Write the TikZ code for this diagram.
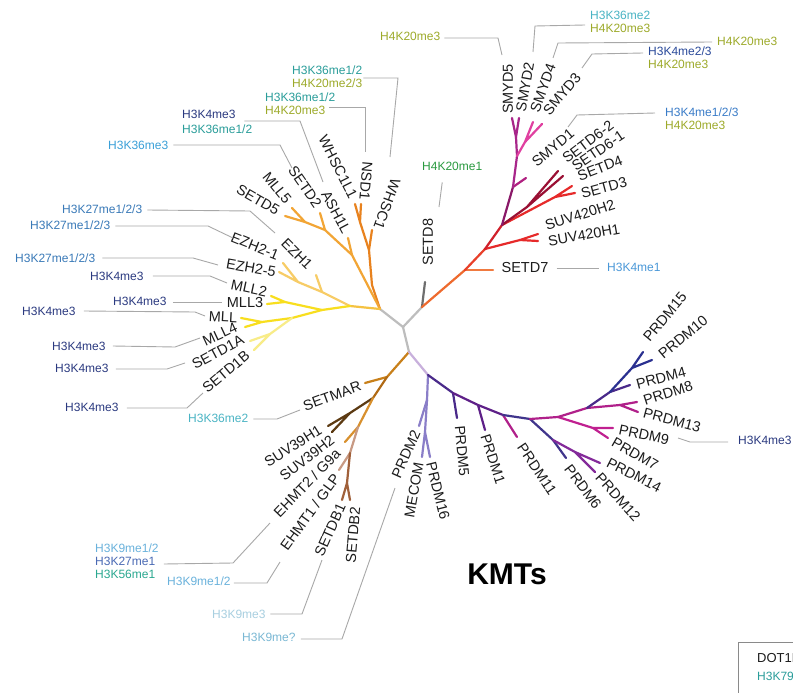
\documentclass[tikz,border=0pt]{standalone}
\usepackage{fontspec}
\setmainfont{Liberation Sans}
\usetikzlibrary{calc}
\newcommand\genef{\fontsize{14.5}{16}\selectfont}
\newcommand\annf{\fontsize{12}{13}\selectfont}
% tree colours
\definecolor{cgray}{HTML}{BDBDBD}
\definecolor{cset8}{HTML}{6E6E6E}
\definecolor{cor1}{HTML}{EE6A2E}
\definecolor{cor2}{HTML}{F07A40}
\definecolor{cred1}{HTML}{E8402A}
\definecolor{cred2}{HTML}{E62A2A}
\definecolor{cred3}{HTML}{D0202A}
\definecolor{cdred}{HTML}{9A1034}
\definecolor{cpur1}{HTML}{8A1868}
\definecolor{cpur2}{HTML}{A8268A}
\definecolor{cmag1}{HTML}{B02080}
\definecolor{cpink}{HTML}{E040A0}
\definecolor{cdor}{HTML}{E8821E}
\definecolor{cor}{HTML}{F2A535}
\definecolor{cyo}{HTML}{F5C242}
\definecolor{cez}{HTML}{F7CC66}
\definecolor{cyel}{HTML}{F8DE1E}
\definecolor{cpyel}{HTML}{F8EC88}
\definecolor{cb1}{HTML}{C8801A}
\definecolor{cb2}{HTML}{B06A15}
\definecolor{cdbr}{HTML}{5C3A12}
\definecolor{cbo}{HTML}{D8902E}
\definecolor{cpbr}{HTML}{C89A84}
\definecolor{cbr}{HTML}{A0603A}
\definecolor{clp}{HTML}{C8B0DC}
\definecolor{clav}{HTML}{8A7EC8}
\definecolor{cdp}{HTML}{4A2A8A}
\definecolor{cpp}{HTML}{5E2088}
\definecolor{cpm}{HTML}{B0208A}
\definecolor{cnp}{HTML}{40358C}
\definecolor{cvi}{HTML}{842A9A}
\definecolor{cmg}{HTML}{C02090}
\definecolor{cnavy}{HTML}{2A3090}
% text colours
\definecolor{genetext}{HTML}{1C1C1C}
\definecolor{leadgray}{HTML}{A8A8A8}
\definecolor{tnavy}{HTML}{2B3A80}
\definecolor{tteal}{HTML}{2A9D9A}
\definecolor{tolive}{HTML}{9DAA2A}
\definecolor{tlblue}{HTML}{3AA0D8}
\definecolor{tsteel}{HTML}{3A7AB8}
\definecolor{tcyan}{HTML}{4AB4C4}
\definecolor{tgreen}{HTML}{2A9A40}
\definecolor{tblue1}{HTML}{4A98D8}
\definecolor{tblue}{HTML}{3A7CC8}
\definecolor{tdblue}{HTML}{2A4A9A}
\definecolor{tk9}{HTML}{6AB2DC}
\definecolor{tk27}{HTML}{4A6AB4}
\definecolor{tk56}{HTML}{2AA890}
\definecolor{tk9p}{HTML}{A8CFE0}
\definecolor{tk9q}{HTML}{7AB8D4}
\definecolor{boxgray}{HTML}{8A8A8A}
\begin{document}
\begin{tikzpicture}[x=1pt,y=-1pt,
  br/.style={line width=2.2pt,line cap=round,line join=round},
  gene/.style={font=\genef,text=genetext,inner sep=0pt},
  ann/.style={font=\annf,inner sep=0pt,anchor=west,align=left},
  lead/.style={draw=leadgray,line width=0.9pt}]
\clip (0,0) rectangle (793,693);
\fill[white] (0,0) rectangle (793,693);
% ---------- coordinates ----------
\coordinate (R0) at (403,327);
\coordinate (Ly) at (380,309);
\coordinate (Lr) at (422,307);
\coordinate (Lb) at (409,352);
% red clade
\coordinate (r8) at (425,282);
\coordinate (r1) at (465,270);
\coordinate (t7) at (493,270);
\coordinate (r2) at (485,249);
\coordinate (r2s) at (520,240);
\coordinate (tH2) at (538,234);
\coordinate (tH1) at (538,241);
\coordinate (r3) at (502,225);
\coordinate (r4) at (527,207);
\coordinate (t62) at (558,171);
\coordinate (t61) at (563,176);
\coordinate (r5) at (555,197);
\coordinate (td4) at (572,186);
\coordinate (td3) at (575,193);
\coordinate (s1) at (513,187);
\coordinate (ts1) at (526,178);
\coordinate (s2) at (517,156);
\coordinate (s3) at (516,137);
\coordinate (ts5) at (512,118);
\coordinate (ts2) at (519,118);
\coordinate (s4) at (525,142);
\coordinate (ts4) at (533,122);
\coordinate (ts3) at (542,124);
% orange clade
\coordinate (o1) at (372,285);
\coordinate (o2) at (369,250);
\coordinate (tw1) at (372,230);
\coordinate (o3) at (360,222);
\coordinate (twl) at (355,204);
\coordinate (tnsd) at (361,204);
\coordinate (o4) at (352,255);
\coordinate (tash) at (348,238);
\coordinate (o5) at (325,230);
\coordinate (tsd2) at (320,213);
\coordinate (o6) at (305,222);
\coordinate (tml5) at (292,208);
\coordinate (tsd5) at (285,216);
% yellow clade
\coordinate (y0) at (350,306);
\coordinate (e1) at (322,292);
\coordinate (tez1) at (316,275);
\coordinate (e2) at (298,282);
\coordinate (tez21) at (283,263);
\coordinate (tez25) at (279,272);
\coordinate (y1) at (322,310);
\coordinate (m23) at (285,302);
\coordinate (tml2) at (271,296);
\coordinate (tml3) at (267,304);
\coordinate (m14a) at (292,318);
\coordinate (m14) at (262,322);
\coordinate (tmll) at (241,318);
\coordinate (tml4) at (245,327);
\coordinate (sd) at (270,334);
\coordinate (tsda) at (250,341);
\coordinate (tsdb) at (254,350);
% brown clade
\coordinate (b1) at (387,377);
\coordinate (tsm) at (365,383);
\coordinate (b2) at (373,398);
\coordinate (suv) at (350,413);
\coordinate (tsv1) at (328,426);
\coordinate (tsv2) at (332,432);
\coordinate (b3) at (358,427);
\coordinate (teh2) at (345,442);
\coordinate (b4) at (350,453);
\coordinate (teh1) at (339,470);
\coordinate (b5) at (347,483);
\coordinate (tdb1) at (342,500);
\coordinate (tdb2) at (350,500);
% PRDM clade
\coordinate (p0) at (428,375);
\coordinate (p1) at (427,400);
\coordinate (tp2) at (419,426);
\coordinate (p2) at (425,432);
\coordinate (tmec) at (422,457);
\coordinate (tp16) at (430,457);
\coordinate (q1) at (453,393);
\coordinate (tp5) at (457,418);
\coordinate (q2) at (478,405);
\coordinate (tp1) at (485,430);
\coordinate (q3) at (503,415);
\coordinate (tp11) at (517,437);
\coordinate (q4) at (530,419);
\coordinate (d1) at (553,440);
\coordinate (tp6) at (566,458);
\coordinate (d2) at (575,452);
\coordinate (tp14) at (600,463);
\coordinate (tp12) at (595,472);
\coordinate (M1) at (558,417);
\coordinate (M97) at (593,428);
\coordinate (tp9) at (613,428);
\coordinate (tp7) at (608,438);
\coordinate (M2) at (587,408);
\coordinate (M813) at (620,405);
\coordinate (tp8) at (637,402);
\coordinate (tp13) at (638,412);
\coordinate (M3) at (610,392);
\coordinate (tp4) at (630,385);
\coordinate (M1510) at (632,368);
\coordinate (tp15) at (643,352);
\coordinate (tp10) at (652,360);
% ---------- branches ----------
\draw[br,cgray] (Ly) -- (R0) -- (Lr);
\draw[br,cgray] (R0) -- (Lb);
\draw[br,cset8] (Lr) -- (r8);
\draw[br,cor1] (Lr) -- (r1);
\draw[br,cor2] (r1) -- (t7);
\draw[br,cred1] (r1) -- (r2);
\draw[br,cred2] (r2) -- (r2s);
\draw[br,cred2] (tH2) -- (r2s) -- (tH1);
\draw[br,cred3] (r2) -- (r3);
\draw[br,cred2] (r3) -- (r5);
\draw[br,cred2] (td4) -- (r5) -- (td3);
\draw[br,cdred] (r3) -- (r4);
\draw[br,cdred] (t62) -- (r4) -- (t61);
\draw[br,cpur1] (r3) -- (s1);
\draw[br,cmag1] (s1) -- (ts1);
\draw[br,cpur2] (s1) -- (s2) -- (s3);
\draw[br,cpur2] (ts5) -- (s3) -- (ts2);
\draw[br,cpink] (s2) -- (s4);
\draw[br,cpink] (ts4) -- (s4) -- (ts3);
% orange
\draw[br,cdor] (Ly) -- (o1) -- (o2) -- (o3);
\draw[br,cdor] (o2) -- (tw1);
\draw[br,cdor] (twl) -- (o3) -- (tnsd);
\draw[br,cor] (Ly) -- (o4) -- (o5) -- (o6);
\draw[br,cor] (o4) -- (tash);
\draw[br,cor] (o5) -- (tsd2);
\draw[br,cor] (tml5) -- (o6) -- (tsd5);
% yellow
\draw[br,cyo] (Ly) -- (y0);
\draw[br,cez] (y0) -- (e1) -- (e2);
\draw[br,cez] (e1) -- (tez1);
\draw[br,cez] (tez21) -- (e2) -- (tez25);
\draw[br,cyel] (y0) -- (y1) -- (m14a) -- (m14);
\draw[br,cyel] (y1) -- (m23);
\draw[br,cyel] (tml2) -- (m23) -- (tml3);
\draw[br,cyel] (tmll) -- (m14) -- (tml4);
\draw[br,cpyel] (m14a) -- (sd);
\draw[br,cpyel] (tsda) -- (sd) -- (tsdb);
% brown
\draw[br,cb1] (Lb) -- (b1) -- (tsm);
\draw[br,cb2] (b1) -- (b2);
\draw[br,cdbr] (b2) -- (suv);
\draw[br,cdbr] (tsv1) -- (suv) -- (tsv2);
\draw[br,cbo] (b2) -- (b3) -- (teh2);
\draw[br,cpbr] (b3) -- (b4) -- (teh1);
\draw[br,cbr] (b4) -- (b5);
\draw[br,cbr] (tdb1) -- (b5) -- (tdb2);
% PRDM
\draw[br,clp] (Lb) -- (p0);
\draw[br,clav] (p0) -- (p1) -- (p2);
\draw[br,clav] (p1) -- (tp2);
\draw[br,clav] (tmec) -- (p2) -- (tp16);
\draw[br,cdp] (p0) -- (q1) -- (tp5);
\draw[br,cpp] (q1) -- (q2) -- (tp1);
\draw[br,cpp] (q2) -- (q3);
\draw[br,cpm] (q3) -- (tp11);
\draw[br,cnp] (q3) -- (q4) -- (d1) -- (tp6);
\draw[br,cvi] (d1) -- (d2);
\draw[br,cvi] (tp14) -- (d2) -- (tp12);
\draw[br,cpm] (q4) -- (M1);
\draw[br,cmg] (M1) -- (M97);
\draw[br,cmg] (tp9) -- (M97) -- (tp7);
\draw[br,cpm] (M1) -- (M2) -- (M813);
\draw[br,cpm] (tp8) -- (M813) -- (tp13);
\draw[br,cdp] (M2) -- (M3) -- (tp4);
\draw[br,cnavy] (M3) -- (M1510);
\draw[br,cnavy] (tp15) -- (M1510) -- (tp10);
% ---------- gene labels ----------
\node[gene,rotate=90] (g-setd8) at (428,242) {SETD8};
\node[gene] (g-setd7) at (525,268) {SETD7};
\node[gene,rotate=10] (g-suvh1) at (584,235) {SUV420H1};
\node[gene,rotate=18] (g-suvh2) at (580,215) {SUV420H2};
\node[gene,rotate=15] (g-setd3) at (604,188) {SETD3};
\node[gene,rotate=21] (g-setd4) at (600,168) {SETD4};
\node[gene,rotate=34] (g-setd61) at (598,151) {SETD6-1};
\node[gene,rotate=37] (g-setd62) at (588,142) {SETD6-2};
\node[gene,rotate=40] (g-smyd1) at (553,148) {SMYD1};
\node[gene,rotate=50] (g-smyd3) at (562,94) {SMYD3};
\node[gene,rotate=70] (g-smyd4) at (543,88) {SMYD4};
\node[gene,rotate=80] (g-smyd2) at (525,87) {SMYD2};
\node[gene,rotate=90] (g-smyd5) at (508,89) {SMYD5};
\node[gene,rotate=-110] (g-whsc1) at (387,204) {WHSC1};
\node[gene,rotate=-95] (g-nsd1) at (366,181) {NSD1};
\node[gene,rotate=-63] (g-whscl1) at (338,167) {WHSC1L1};
\node[gene,rotate=-62] (g-ash1l) at (336,212) {ASH1L};
\node[gene,rotate=-55] (g-setd2) at (305,187) {SETD2};
\node[gene,rotate=-51] (g-mll5) at (277,188) {MLL5};
\node[gene,rotate=-30] (g-setd5) at (258,200) {SETD5};
\node[gene,rotate=-45] (g-ezh1) at (297,254) {EZH1};
\node[gene,rotate=-22] (g-ezh21) at (255,246) {EZH2-1};
\node[gene,rotate=-10] (g-ezh25) at (251,268) {EZH2-5};
\node[gene,rotate=-12] (g-mll2) at (249,288) {MLL2};
\node[gene] (g-mll3) at (245,303) {MLL3};
\node[gene,rotate=-3] (g-mll) at (223,317) {MLL};
\node[gene,rotate=25] (g-mll4) at (220,334) {MLL4};
\node[gene,rotate=28] (g-setd1a) at (218,352) {SETD1A};
\node[gene,rotate=40] (g-setd1b) at (226,372) {SETD1B};
\node[gene,rotate=20] (g-setmar) at (332,396) {SETMAR};
\node[gene,rotate=32] (g-suv1) at (293,446) {SUV39H1};
\node[gene,rotate=38] (g-suv2) at (307,458) {SUV39H2};
\node[gene,rotate=46] (g-ehmt2) at (307,483) {EHMT2 / G9a};
\node[gene,rotate=54] (g-ehmt1) at (310,512) {EHMT1 / GLP};
\node[gene,rotate=66] (g-setdb1) at (330,530) {SETDB1};
\node[gene,rotate=85] (g-setdb2) at (353,535) {SETDB2};
\node[gene,rotate=66] (g-prdm2) at (406,454) {PRDM2};
\node[gene,rotate=80] (g-mecom) at (414,490) {MECOM};
\node[gene,rotate=-76] (g-prdm16) at (438,491) {PRDM16};
\node[gene,rotate=-85] (g-prdm5) at (462,451) {PRDM5};
\node[gene,rotate=-72] (g-prdm1) at (493,459) {PRDM1};
\node[gene,rotate=-56] (g-prdm11) at (537,469) {PRDM11};
\node[gene,rotate=-53] (g-prdm6) at (583,487) {PRDM6};
\node[gene,rotate=-48] (g-prdm12) at (618,497) {PRDM12};
\node[gene,rotate=-27] (g-prdm14) at (634,475) {PRDM14};
\node[gene,rotate=-30] (g-prdm7) at (635,454) {PRDM7};
\node[gene,rotate=-12] (g-prdm9) at (644,435) {PRDM9};
\node[gene,rotate=-15] (g-prdm13) at (672,420) {PRDM13};
\node[gene,rotate=18] (g-prdm8) at (668,393) {PRDM8};
\node[gene,rotate=15] (g-prdm4) at (661,378) {PRDM4};
\node[gene,rotate=40] (g-prdm10) at (683,337) {PRDM10};
\node[gene,rotate=50] (g-prdm15) at (665,317) {PRDM15};
% ---------- annotations ----------
\node[ann,text=tolive] (a1) at (380,36) {H4K20me3};
\node[ann] (a2) at (590,21.5) {\color{tcyan}H3K36me2\\\color{tolive}H4K20me3};
\node[ann,text=tolive] (a3) at (717,41) {H4K20me3};
\node[ann] (a4) at (648,57.5) {\color{tdblue}H3K4me2/3\\\color{tolive}H4K20me3};
\node[ann] (a5) at (665,118.5) {\color{tblue}H3K4me1/2/3\\\color{tolive}H4K20me3};
\node[ann,text=tgreen] (a6) at (422,166) {H4K20me1};
\node[ann,text=tblue1] (a7) at (607,267) {H3K4me1};
\node[ann,text=tnavy] (a8) at (738,440) {H3K4me3};
\node[ann] (a9) at (292,76.5) {\color{tteal}H3K36me1/2\\\color{tolive}H4K20me2/3};
\node[ann] (a10) at (265,103.5) {\color{tteal}H3K36me1/2\\\color{tolive}H4K20me3};
\node[ann] (a11) at (182,122) {\color{tnavy}H3K4me3\\[2pt]\color{tteal}H3K36me1/2};
\node[ann,text=tlblue] (a12) at (108,145) {H3K36me3};
\node[ann,text=tsteel] (a13) at (62,209) {H3K27me1/2/3};
\node[ann,text=tsteel] (a14) at (30,225) {H3K27me1/2/3};
\node[ann,text=tsteel] (a15) at (15,258) {H3K27me1/2/3};
\node[ann,text=tnavy] (a16) at (90,276) {H3K4me3};
\node[ann,text=tnavy] (a17) at (113,301) {H3K4me3};
\node[ann,text=tnavy] (a18) at (22,311) {H3K4me3};
\node[ann,text=tnavy] (a19) at (52,346) {H3K4me3};
\node[ann,text=tnavy] (a20) at (55,368) {H3K4me3};
\node[ann,text=tnavy] (a21) at (65,407) {H3K4me3};
\node[ann,text=tcyan] (a22) at (188,418) {H3K36me2};
\node[ann] (a23) at (95,561) {\color{tk9}H3K9me1/2\\\color{tk27}H3K27me1\\\color{tk56}H3K56me1};
\node[ann,text=tk9] (a24) at (167,581) {H3K9me1/2};
\node[ann,text=tk9p] (a25) at (212,614) {H3K9me3};
\node[ann,text=tk9q] (a26) at (242,637) {H3K9me?};
% ---------- leaders ----------
\draw[lead] (a1.east) ++(4,2) -- (498,38) -- (502,55);
\draw[lead] (a2.west) ++(-5,3.5) -- (535,26) -- (533,52);
\draw[lead] (a3.west) ++(-5,1) -- (558,43) -- (553,58);
\draw[lead] (a4.west) ++(-5,-4.5) -- (592,54) -- (582,68);
\draw[lead] (a5.west) ++(-10,-5.5) -- (577,115) -- (568,127);
\draw[lead] (a6.south) ++(-10,12) -- (439,207);
\draw[lead] (g-setd7.east) ++(8,0) -- ++(42,0);
\draw[lead] (a8.west) ++(-10,2) -- (690,442) -- (678,438);
\draw[lead] (a9.east) ++(1,1.5) -- (398,78) -- (390,157);
\draw[lead] (a10.east) ++(-6,3.5) -- (365,107) -- (365,152);
\draw[lead] (a11.east) ++(-8,-1) -- (300,121) -- (323,182);
\draw[lead] (a12.east) ++(5,0) -- (280,145) -- (292,168);
\draw[lead] (a13.east) ++(5,1) -- (250,211) -- (275,233);
\draw[lead] (a14.east) ++(5,1) -- (208,226) -- (233,238);
\draw[lead] (a15.east) ++(7,0) -- (193,258) -- (218,265);
\draw[lead] (a16.east) ++(9,0) -- (210,276) -- (227,283);
\draw[lead] (a17.east) ++(6,1) -- (222,302);
\draw[lead] (a18.east) ++(8,0) -- (195,312) -- (205,316);
\draw[lead] (a19.east) ++(7,0) -- (175,347) -- (200,338);
\draw[lead] (a20.east) ++(7,1) -- (167,369) -- (185,363);
\draw[lead] (a21.east) ++(8,1) -- (187,408) -- (203,393);
\draw[lead] (a22.east) ++(5,1) -- (277,419) -- (300,410);
\draw[lead] (a23.east) ++(5,3) -- (233,563) -- (270,523);
\draw[lead] (a24.east) ++(3,2) -- (267,583) -- (280,562);
\draw[lead] (a25.east) ++(4.5,0) -- (302,614) -- (322,560);
\draw[lead] (a26.east) ++(5,2) -- (342,639) -- (395,488);
% ---------- title and box ----------
\node[font=\bfseries\fontsize{30}{32}\selectfont,text=black,inner sep=0pt] (kmts) at (507,574) {KMTs};
\draw[boxgray,line width=0.8pt] (738,642) rectangle (810,710);
\node[anchor=west,inner sep=0pt,font=\fontsize{13}{14}\selectfont,text=genetext] (dot1l) at (757,658) {DOT1L};
\node[anchor=west,inner sep=0pt,font=\annf,text=tteal] (h3k79) at (757,676) {H3K79me1/2/3};
\end{tikzpicture}
\end{document}
